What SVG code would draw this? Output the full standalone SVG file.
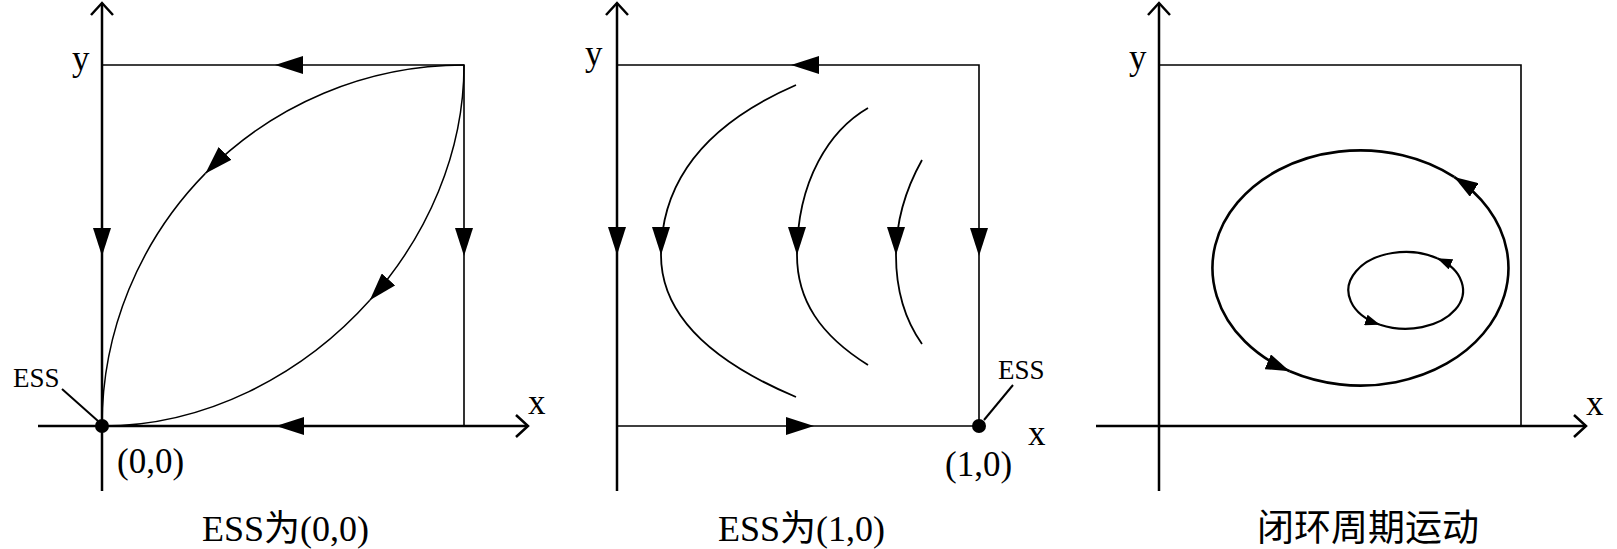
<svg xmlns="http://www.w3.org/2000/svg" xmlns:xlink="http://www.w3.org/1999/xlink" width="1617" height="549" viewBox="0 0 1617 549">
<style>
.ax{stroke:#000;stroke-width:2.5;fill:none}
.bx{stroke:#000;stroke-width:1.6;fill:none}
.cv{stroke:#000;stroke-width:1.5;fill:none}
.cv2{stroke:#000;stroke-width:1.8;fill:none}
.el{stroke:#000;stroke-width:2.6;fill:none}
.el2{stroke:#000;stroke-width:2.2;fill:none}
.lb{font-family:"Liberation Serif","Times New Roman",serif;font-size:35px;fill:#000}
.sm{font-family:"Liberation Serif","Times New Roman",serif;font-size:27px;fill:#000}
.tt{font-family:"Liberation Serif","Noto Sans CJK SC",serif;font-size:36px;fill:#000}
.cj{font-family:"Noto Sans CJK SC",sans-serif;font-size:37px;fill:#000}
</style>
<defs>
<path id="tri" d="M0,0 L-28,-9 L-28,9 Z" fill="#000"/>
<marker id="ma" markerUnits="userSpaceOnUse" viewBox="0 0 28 18" refX="28" refY="9" markerWidth="28" markerHeight="18" orient="auto"><path d="M0,0 L28,9 L0,18 Z" fill="#000"/></marker>
<marker id="mb" markerUnits="userSpaceOnUse" viewBox="0 0 24 16" refX="24" refY="8" markerWidth="24" markerHeight="16" orient="auto"><path d="M0,0 L24,8 L0,16 Z" fill="#000"/></marker>
<marker id="mc" markerUnits="userSpaceOnUse" viewBox="0 0 15 11" refX="15" refY="5.5" markerWidth="15" markerHeight="11" orient="auto"><path d="M0,0 L15,5.5 L0,11 Z" fill="#000"/></marker>
</defs>

<!-- Panel 1 -->
<g id="panel1-axes">
<line class="ax" x1="102" y1="491" x2="102" y2="3"/>
<polyline class="ax" points="91,15 102,3 113,15"/>
<line class="ax" x1="38" y1="426" x2="528" y2="426"/>
<polyline class="ax" points="516,415 528,426 516,437"/>
<text class="lb" x="72" y="70">y</text>
<text class="lb" x="528" y="414">x</text>
</g>
<g id="panel1-ess">
<circle cx="102" cy="426" r="7" fill="#000"/>
<line x1="62" y1="389" x2="98" y2="421" stroke="#000" stroke-width="2"/>
<text class="sm" x="13" y="387">ESS</text>
<text class="lb" x="117" y="473">(0,0)</text>
</g>
<g id="panel1-title"><text class="tt" x="202" y="541">ESS为(0,0)</text></g>

<!-- Panel 2 -->
<g id="panel2-axes">
<line class="ax" x1="617" y1="491" x2="617" y2="3"/>
<polyline class="ax" points="606,15 617,3 628,15"/>
<text class="lb" x="585" y="65">y</text>
<text class="lb" x="1028" y="445">x</text>
</g>
<g id="panel2-ess">
<circle cx="979" cy="426" r="7" fill="#000"/>
<line x1="1013" y1="385" x2="984" y2="420" stroke="#000" stroke-width="2"/>
<text class="sm" x="998" y="379">ESS</text>
<text class="lb" x="945" y="476">(1,0)</text>
</g>
<g id="panel2-title"><text class="tt" x="718" y="541">ESS为(1,0)</text></g>

<!-- Panel 3 -->
<g id="panel3-axes">
<line class="ax" x1="1159" y1="491" x2="1159" y2="3"/>
<polyline class="ax" points="1148,15 1159,3 1170,15"/>
<line class="ax" x1="1096" y1="426" x2="1586" y2="426"/>
<polyline class="ax" points="1574,415 1586,426 1574,437"/>
<text class="lb" x="1129" y="69">y</text>
<text class="lb" x="1586" y="415">x</text>
</g>
<g id="panel3-title"><text class="cj" x="1257" y="541">闭环周期运动</text></g>

<g id="connectors">
<!-- panel 1 box -->
<polyline class="bx" points="102,65 464,65 464,426"/>
<use xlink:href="#tri" transform="translate(275,65) rotate(180)"/>
<use xlink:href="#tri" transform="translate(102,256) rotate(90)"/>
<use xlink:href="#tri" transform="translate(464,256) rotate(90)"/>
<use xlink:href="#tri" transform="translate(276,426) rotate(180)"/>
<!-- panel 1 curves -->
<path class="cv" d="M464,65 A362,361 0 0 0 205.4,173.4" marker-end="url(#ma)"/>
<path class="cv" d="M205.4,173.4 A362,361 0 0 0 102,426"/>
<path class="cv" d="M464,65 C464,152.4 427.6,235.8 369.8,300.3" marker-end="url(#ma)"/>
<path class="cv" d="M369.8,300.3 C301.95,376.1 204.6,426 102,426"/>

<!-- panel 2 box -->
<polyline class="bx" points="617,65 979,65 979,426 617,426"/>
<use xlink:href="#tri" transform="translate(791,65) rotate(180)"/>
<use xlink:href="#tri" transform="translate(814,426)"/>
<use xlink:href="#tri" transform="translate(617,255) rotate(90)"/>
<use xlink:href="#tri" transform="translate(979,256) rotate(90)"/>
<!-- panel 2 curves -->
<path class="cv2" d="M796,85 C720,118 661,170 661,255" marker-end="url(#ma)"/>
<path class="cv2" d="M661,255 C661,320 720,365 796,397"/>
<path class="cv2" d="M868,108 C830,130 797,180 797,255" marker-end="url(#ma)"/>
<path class="cv2" d="M797,255 C797,300 820,335 868,365"/>
<path class="cv2" d="M922,160 C908,185 896,215 896,255" marker-end="url(#ma)"/>
<path class="cv2" d="M896,255 C896,290 905,320 922,344"/>

<!-- panel 3 box -->
<polyline class="bx" points="1159,65 1521,65 1521,426"/>
<!-- panel 3 orbits -->
<path class="el" d="M1454.1,176.9 A148,117.6 0 1 0 1289.8,371.3" marker-end="url(#mb)"/>
<path class="el" d="M1289.8,371.3 A148,117.6 0 0 0 1454.1,176.9" marker-end="url(#mb)"/>
<path class="el2" d="M1437.2,258.3 A57.3,38.4 0 1 0 1380,324.7" marker-end="url(#mc)"/>
<path class="el2" d="M1380,324.7 A57.3,38.4 0 0 0 1437.2,258.3" marker-end="url(#mc)"/>
</g>
</svg>
